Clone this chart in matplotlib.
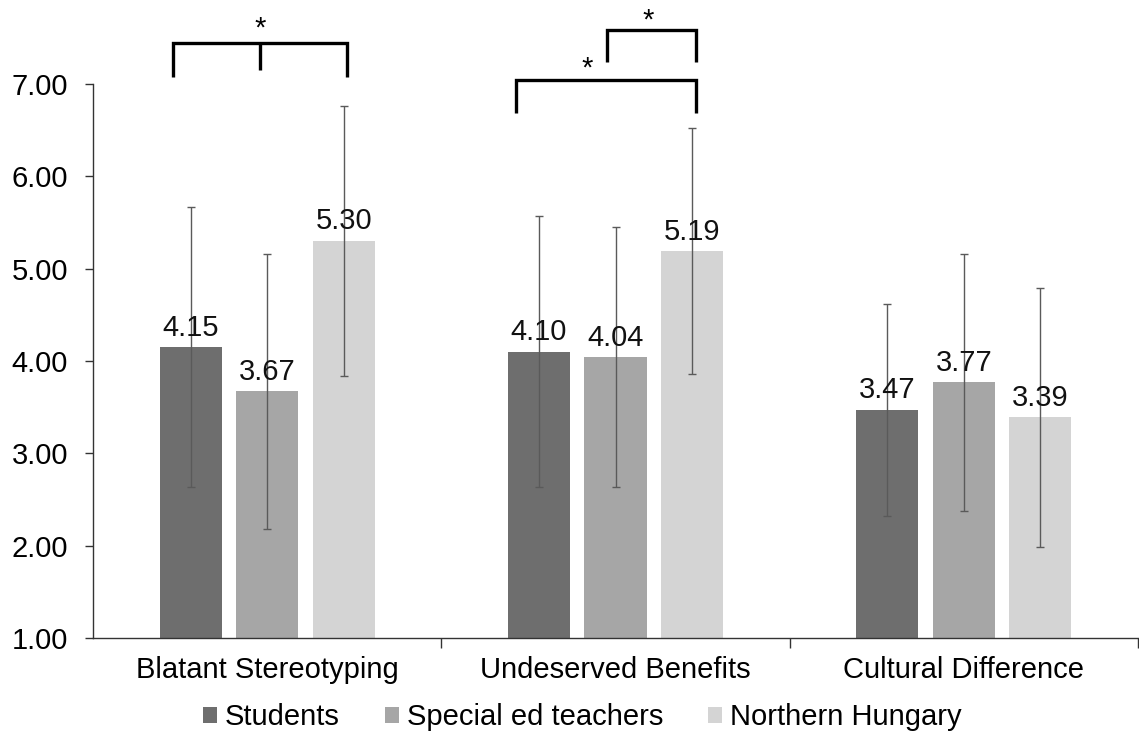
import matplotlib
matplotlib.use("Agg")
import matplotlib.pyplot as plt
import numpy as np

categories = ["Blatant Stereotyping", "Undeserved Benefits", "Cultural Difference"]
series_names = ["Students", "Special ed teachers", "Northern Hungary"]
students = [4.15, 4.10, 3.47]
special_ed = [3.67, 4.04, 3.77]
northern = [5.30, 5.19, 3.39]
students_sd = [1.52, 1.47, 1.15]
special_ed_sd = [1.49, 1.41, 1.39]
northern_sd = [1.46, 1.33, 1.40]
y_ticks = [1, 2, 3, 4, 5, 6, 7]

colors = ["#6e6e6e", "#a6a6a6", "#d4d4d4"]
FS = 21

plt.rcParams['font.family'] = ['Liberation Sans', 'DejaVu Sans']
fig = plt.figure(figsize=(11.39, 7.35), dpi=100)
ax = fig.add_axes([93/1139, 1-638/735, (1138-93)/1139, (638-84)/735])

x = np.arange(len(categories))
width = 0.178
offsets = [-0.22, 0.0, 0.22]
vals = [students, special_ed, northern]
sds = [students_sd, special_ed_sd, northern_sd]

for i in range(3):
    pos = x + offsets[i]
    ax.bar(pos, np.array(vals[i]) - 1, bottom=1, width=width, color=colors[i],
           label=series_names[i], zorder=2)
    ax.errorbar(pos, vals[i], yerr=sds[i], fmt='none', ecolor='#5a5a5a',
                elinewidth=1, capsize=2.7, capthick=1, zorder=3)
    for p, v in zip(pos, vals[i]):
        ax.annotate(f"{v:.2f}", (p, v), xytext=(0, 4), textcoords='offset points',
                    ha='center', va='bottom', fontsize=FS, color='#111111', zorder=4)

ax.set_xlim(-0.5, 2.5)
ax.set_ylim(1, 7)
ax.set_yticks(y_ticks)
ax.set_yticklabels([f"{t:.2f}" for t in y_ticks], fontsize=FS)
ax.set_xticks([0.5, 1.5, 2.5])
ax.set_xticklabels([])
ax.set_xticks(x, minor=True)
ax.set_xticklabels(categories, minor=True, fontsize=FS)
ax.tick_params(axis='x', which='minor', length=0, pad=13)
ax.tick_params(axis='x', which='major', length=7, width=1, color='#333333')
ax.tick_params(axis='y', length=6, width=1, color='#333333', pad=12)
for s in ['top', 'right']:
    ax.spines[s].set_visible(False)
for s in ['left', 'bottom']:
    ax.spines[s].set_color('#333333')
    ax.spines[s].set_linewidth(1)

# significance brackets
lw = 2.4
def line(xs, ys):
    ax.plot(xs, ys, color='black', lw=lw, clip_on=False, solid_capstyle='butt',
            solid_joinstyle='miter', zorder=5)

# Blatant Stereotyping bracket
line([-0.269, -0.269, 0.229, 0.229], [7.08, 7.44, 7.44, 7.08])
line([-0.02, -0.02], [7.44, 7.15])
ax.text(-0.02, 7.6, "*", ha='center', va='center', fontsize=FS, clip_on=False)
# Undeserved Benefits outer bracket
line([0.713, 0.713, 1.232, 1.232], [6.69, 7.04, 7.04, 6.69])
ax.text(0.92, 7.17, "*", ha='center', va='center', fontsize=FS, clip_on=False)
# inner bracket
line([0.977, 0.977, 1.232, 1.232], [7.24, 7.585, 7.585, 7.24])
ax.text(1.095, 7.69, "*", ha='center', va='center', fontsize=FS, clip_on=False)

leg = fig.legend(loc='center', bbox_to_anchor=(582.5/1139, 1-717/735), ncol=3,
                 frameon=False, fontsize=FS, handlelength=0.48, handleheight=0.48,
                 handletextpad=0.27, columnspacing=1.55, borderaxespad=0)

fig.savefig("out.png", dpi=100)
